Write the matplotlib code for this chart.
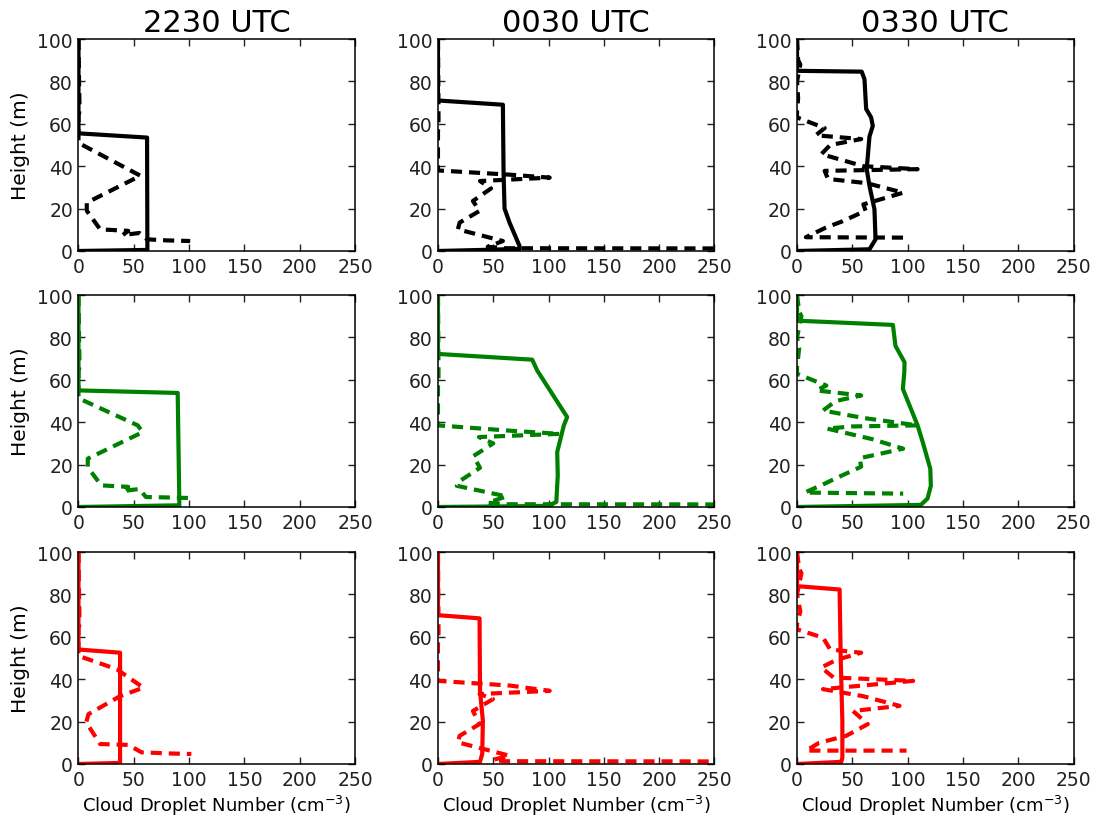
import matplotlib
matplotlib.use("Agg")
import matplotlib.pyplot as plt

# ---------------- data (N in cm^-3, z in m) ----------------
times = ["2230 UTC", "0030 UTC", "0330 UTC"]
row_colors = ["k", "g", "r"]
x_ticks = [0, 50, 100, 150, 200, 250]
y_ticks = [0, 20, 40, 60, 80, 100]

# Row 1 (black)
k1_solid_N = [0, 0, 62, 62.3, 0]
k1_solid_z = [100, 55.5, 53.5, 0.5, 0]
k1_dash_N = [0, 0.5, 1, 0, 0, 56, 7.5, 7.5, 19.6, 45, 40, 55, 62, 80, 101]
k1_dash_z = [100, 80, 66, 64, 51, 35.5, 22.8, 19, 10.2, 9.5, 7.5, 8.5, 5.5, 5, 4.7]

k2_solid_N = [0, 0, 58.7, 59.3, 60.2, 64.7, 73.7, 74, 40, 0]
k2_solid_z = [100, 71, 69, 37, 20, 13.4, 2.4, 1, 0.5, 0]
k2_dash_N = [0, 0.5, 0, 0, 65, 101, 38, 48, 31.6, 37.6, 19.6, 18, 58.7, 45, 60, 260]
k2_dash_z = [100, 62, 56, 38, 36, 34.6, 33, 29.5, 23.6, 18.9, 13.4, 10.2, 4.7, 2, 1.3, 1.2]

k3_solid_N = [0, 0, 58.5, 61, 62.5, 67, 68.5, 65.5, 63, 65.5, 70, 71, 65.5, 0]
k3_solid_z = [100, 85, 84.6, 81, 67, 63, 59, 54, 38.6, 30.7, 19.7, 5.5, 0.8, 0]
k3_dash_N = [0, 1, 3, 0, 1, 0, 0, 25, 17, 58, 30, 22, 60, 109, 25, 28, 63, 96, 60, 62, 41, 26, 8, 97]
k3_dash_z = [100, 90, 88, 80, 72, 66, 63, 58, 54.6, 52.8, 50, 45.7, 40, 38.6, 37.8, 34, 32, 27.5, 22, 19, 14, 11, 6.5, 6.3]

# Row 2 (green)
g1_solid_N = [0, 0, 89.7, 91.2, 0]
g1_solid_z = [100, 55, 53.8, 0.8, 0]
g1_dash_N = [0, 0.5, 1, 0, 0, 53.6, 58, 8.4, 8.4, 20.5, 45, 40, 55, 61, 80, 103]
g1_dash_z = [100, 80, 66, 64, 51.3, 38.5, 35.3, 22.8, 18.8, 10.2, 9.5, 7.5, 8.5, 4.7, 4.5, 4.2]

g2_solid_N = [0, 0, 85.2, 89.7, 116.8, 113.8, 107.8, 108.3, 107, 100, 0]
g2_solid_z = [100, 72.2, 69.5, 64.4, 42.4, 38.5, 25.9, 14.9, 2.4, 0.5, 0]
g2_dash_N = [0, 0.5, 0, 0, 65, 110, 37, 50, 32, 38, 19, 17, 62, 45, 60, 260]
g2_dash_z = [100, 62, 56, 38.5, 36, 34.5, 33, 30, 24, 18.5, 12, 10, 5, 2, 1.3, 1.2]

g3_solid_N = [0, 0, 86.7, 89, 97.2, 97, 95.7, 109, 114, 120.5, 121, 118, 112, 0]
g3_solid_z = [100, 87.9, 85.9, 76, 68.3, 63.6, 55.7, 38.5, 30, 18, 10, 4, 1, 0]
g3_dash_N = [0, 2, 4, 0, 2, 0, 0, 26.5, 17.5, 58, 35, 23.5, 60, 109, 50, 27, 68, 96, 56.6, 58, 37, 25, 7, 96]
g3_dash_z = [100, 92, 90, 80, 75, 66, 62.8, 57.3, 55, 52.6, 50, 45.5, 42, 38.5, 38, 37, 32, 27.5, 23, 19, 14, 11, 6.8, 6.3]

# Row 3 (red)
r1_solid_N = [0, 0, 37.6, 37.6, 0]
r1_solid_z = [100, 54, 52.5, 0.5, 0]
r1_dash_N = [0, 0.5, 1, 0, 0, 34.6, 58.7, 37.6, 9, 7, 19.6, 45, 57, 80, 102]
r1_dash_z = [100, 80, 66, 64, 51, 44.7, 36, 32, 23.5, 19.6, 9.4, 9, 5.5, 5, 4.7]

r2_solid_N = [0, 0, 37.6, 38, 40.6, 40, 38, 0]
r2_solid_z = [100, 70.2, 68.7, 34.5, 20.4, 4.7, 1, 0]
r2_dash_N = [0, 0.5, 0, 0, 65, 101, 37.6, 49.7, 31.6, 37.6, 19.6, 18, 64.7, 50, 60, 260]
r2_dash_z = [100, 62, 56, 39.2, 37, 34.5, 33, 30.6, 25, 18.8, 13.3, 10.2, 3.9, 2, 1.3, 1.2]

r3_solid_N = [0, 0, 38.5, 39.5, 41, 41, 40, 0]
r3_solid_z = [100, 83.9, 82.3, 50, 20, 3, 1, 0]
r3_dash_N = [0, 2, 4, 0, 3, 0, 0, 23.5, 30, 58, 35, 22, 33, 105, 23.5, 59.6, 92.7, 50.6, 64, 44.5, 20, 8.4, 99]
r3_dash_z = [100, 92, 90, 80, 72, 66, 63.5, 59.6, 54, 52.5, 49, 45.5, 40.8, 39.2, 35.3, 32, 27.4, 25, 18.8, 13.3, 10, 6.3, 6.3]

panels = [
    [(k1_solid_N, k1_solid_z, k1_dash_N, k1_dash_z),
     (k2_solid_N, k2_solid_z, k2_dash_N, k2_dash_z),
     (k3_solid_N, k3_solid_z, k3_dash_N, k3_dash_z)],
    [(g1_solid_N, g1_solid_z, g1_dash_N, g1_dash_z),
     (g2_solid_N, g2_solid_z, g2_dash_N, g2_dash_z),
     (g3_solid_N, g3_solid_z, g3_dash_N, g3_dash_z)],
    [(r1_solid_N, r1_solid_z, r1_dash_N, r1_dash_z),
     (r2_solid_N, r2_solid_z, r2_dash_N, r2_dash_z),
     (r3_solid_N, r3_solid_z, r3_dash_N, r3_dash_z)],
]

# ---------------- style ----------------
plt.rcParams['font.family'] = ['DejaVu Sans']
plt.rcParams['lines.scale_dashes'] = False
plt.rcParams['mathtext.default'] = 'regular'

fig = plt.figure(figsize=(10.93, 8.2), dpi=100, facecolor='white')

lefts = [0.0718, 0.4007, 0.7292]
bottoms = [0.6927, 0.3805, 0.0671]
w, h = 0.2530, 0.2585

for i in range(3):
    for j in range(3):
        ax = fig.add_axes([lefts[j], bottoms[i], w, h])
        sN, sz, dN, dz = panels[i][j]
        c = row_colors[i]
        ax.plot(dN, dz, color=c, lw=3, linestyle=(0, (8, 5)), clip_on=True)
        ax.plot(sN, sz, color=c, lw=3, solid_joinstyle='round')
        ax.set_xlim(0, 250)
        ax.set_ylim(0, 100)
        ax.set_xticks(x_ticks)
        ax.set_yticks(y_ticks)
        ax.tick_params(direction='in', length=5, width=1, top=True, right=True,
                       labelsize=13.5, pad=4, colors='#222222')
        for sp in ax.spines.values():
            sp.set_linewidth(1.1)
        if i == 0:
            ax.set_title(times[j], fontsize=22, pad=6)
        if j == 0:
            ax.set_ylabel("Height (m)", fontsize=14.5, labelpad=5)
        if i == 2:
            ax.set_xlabel(r"Cloud Droplet Number (cm$^{-3}$)", fontsize=13, labelpad=3)

fig.savefig("out.png", dpi=100, facecolor='white')
